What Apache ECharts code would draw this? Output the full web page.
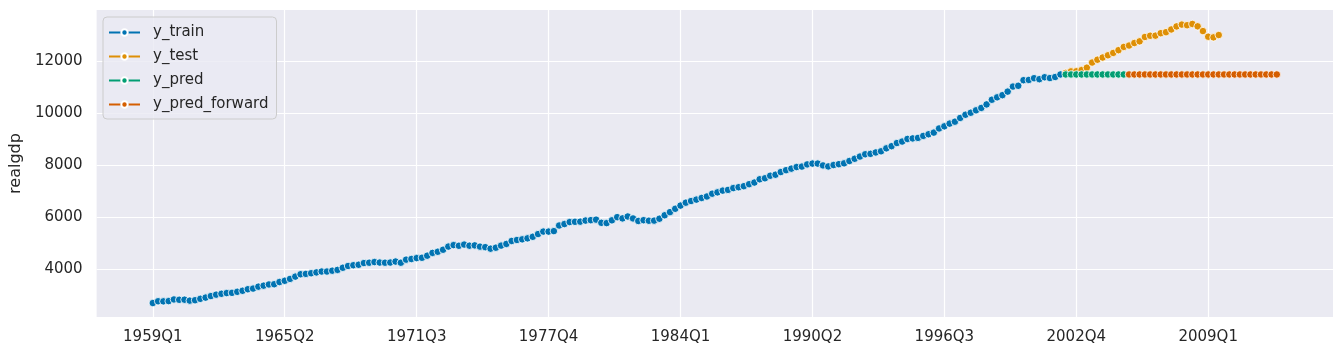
<!DOCTYPE html>
<html><head><meta charset="utf-8">
<script src="https://cdn.jsdelivr.net/npm/echarts@6/dist/echarts.min.js"></script>
<style>html,body{margin:0;padding:0;background:#fff}#c{width:1344px;height:356px}</style>
</head><body><div id="c"></div>
<script>
// Quarter labels 1959Q1 .. 2012Q2
const quarters = [];
for (let y = 1959; y <= 2012; y++) for (let q = 1; q <= 4; q++) quarters.push(y + 'Q' + q);
quarters.length = 214;

const tickLabels = ['1959Q1','1965Q2','1971Q3','1977Q4','1984Q1','1990Q2','1996Q3','2002Q4','2009Q1'];
const yTicks = [4000, 6000, 8000, 10000, 12000];

const trainStart = '1959Q1';
const trainValues = [2710.349,2778.801,2775.488,2785.204,2847.699,2834.390,2839.022,2802.616,2819.264,2872.005,2918.419,2977.830,3031.241,3064.709,3093.047,3100.563,3141.087,3180.447,3240.332,3264.967,3338.246,3376.587,3422.469,3431.957,3516.251,3563.960,3636.285,3724.014,3815.423,3828.124,3853.301,3884.520,3918.740,3919.556,3950.826,3980.970,4063.013,4131.998,4160.267,4178.293,4244.100,4256.460,4283.378,4263.261,4256.573,4264.289,4302.259,4256.637,4374.016,4398.829,4433.943,4446.264,4525.769,4633.101,4677.503,4754.546,4876.166,4932.571,4906.252,4953.050,4909.617,4922.188,4873.520,4854.340,4795.295,4831.942,4913.328,4977.511,5090.663,5128.947,5154.072,5191.499,5251.762,5356.131,5451.921,5450.793,5469.405,5684.569,5740.300,5816.222,5825.949,5831.418,5873.335,5889.495,5908.467,5787.373,5776.617,5883.460,6005.717,5957.795,6030.184,5955.062,5857.333,5889.074,5866.370,5871.001,5944.020,6077.619,6197.468,6325.574,6448.264,6559.594,6623.343,6677.264,6740.275,6797.344,6903.523,6955.918,7022.757,7050.969,7118.950,7153.359,7193.019,7269.510,7332.558,7458.022,7496.600,7592.881,7632.082,7733.991,7806.603,7865.016,7927.393,7944.697,8027.693,8059.598,8059.476,7988.864,7950.164,8003.822,8037.538,8069.046,8157.616,8244.294,8329.361,8417.016,8432.485,8486.435,8531.108,8643.769,8727.919,8847.303,8904.289,9003.180,9025.267,9044.668,9120.684,9184.275,9247.188,9407.052,9488.879,9592.458,9666.235,9809.551,9932.672,10008.874,10103.425,10194.277,10328.787,10507.575,10601.179,10684.049,10819.914,11014.254,11043.044,11258.454,11267.867,11334.544,11297.171,11371.251,11340.075,11380.128,11477.868];

const testStart = '2002Q2';
const testValues = [11538.770,11596.430,11598.824,11645.819,11738.706,11935.461,12042.817,12127.623,12213.818,12303.533,12410.282,12534.113,12587.535,12683.153,12748.699,12915.938,12962.462,12965.916,13060.679,13099.901,13203.977,13321.109,13391.249,13366.865,13415.266,13324.600,13141.920,12925.410,12901.504,12990.341];

const predStart = '2002Q2';
const predValues = [11477.868,11477.868,11477.868,11477.868,11477.868,11477.868,11477.868,11477.868,11477.868,11477.868,11477.868,11477.868,11477.868,11477.868,11477.868,11477.868,11477.868,11477.868,11477.868,11477.868,11477.868,11477.868,11477.868,11477.868,11477.868,11477.868,11477.868,11477.868,11477.868,11477.868];

const forwardStart = '2005Q2';
const forwardValues = [11477.868,11477.868,11477.868,11477.868,11477.868,11477.868,11477.868,11477.868,11477.868,11477.868,11477.868,11477.868,11477.868,11477.868,11477.868,11477.868,11477.868,11477.868,11477.868,11477.868,11477.868,11477.868,11477.868,11477.868,11477.868,11477.868,11477.868,11477.868,11477.868];

const colors = ['#0173B2', '#DE8F05', '#029E73', '#D55E00'];
function pts(start, vals) {
  const s = quarters.indexOf(start);
  return vals.map((v, i) => [s + i, v]);
}
const tickIdx = tickLabels.map(l => quarters.indexOf(l));
const xPad = (quarters.length - 1) * 0.05;
const allVals = trainValues.concat(testValues, predValues, forwardValues);
const yMinD = Math.min(...allVals), yMaxD = Math.max(...allVals);
const yPad = (yMaxD - yMinD) * 0.05;

function mk(name, start, vals, color) {
  return {
    name, type: 'line', data: pts(start, vals), color,
    symbol: 'circle', symbolSize: 7.5, showSymbol: true,
    itemStyle: { color, borderColor: '#ffffff', borderWidth: 0.8 },
    lineStyle: { width: 1.5, color },
    animation: false, z: 2
  };
}

const chart = echarts.init(document.getElementById('c'), null, { renderer: 'canvas' });
const font = 'DejaVu Sans';
chart.setOption({
  backgroundColor: '#ffffff',
  animation: false,
  textStyle: { fontFamily: font },
  grid: { left: 96, right: 11, top: 10, bottom: 39, show: true, backgroundColor: '#EAEAF2', borderWidth: 0 },
  xAxis: {
    type: 'value', min: -xPad, max: quarters.length - 1 + xPad,
    axisLine: { show: false },
    axisTick: { show: false, customValues: tickIdx },
    axisLabel: { customValues: tickIdx, formatter: v => quarters[Math.round(v)], color: '#262626', fontSize: 15, fontFamily: font, margin: 13 },
    splitLine: { show: true, lineStyle: { color: '#ffffff', width: 1.2 } }
  },
  yAxis: {
    type: 'value', min: yMinD - yPad, max: yMaxD + yPad,
    name: 'realgdp', nameLocation: 'middle', nameGap: 62, nameRotate: 90,
    nameTextStyle: { color: '#262626', fontSize: 16, fontFamily: font },
    axisLine: { show: false },
    axisTick: { show: false, customValues: yTicks },
    axisLabel: { customValues: yTicks, formatter: v => String(v), color: '#262626', fontSize: 15, fontFamily: font, margin: 14 },
    splitLine: { show: true, lineStyle: { color: '#ffffff', width: 1.2 } }
  },
  legend: {
    orient: 'vertical', left: 103, top: 17,
    padding: [8, 8, 7, 5], itemGap: 9, itemWidth: 31, itemHeight: 8,
    backgroundColor: 'rgba(234,234,242,0.8)', borderColor: '#cccccc', borderWidth: 1, borderRadius: 4,
    textStyle: { color: '#262626', fontSize: 15, fontFamily: font, padding: [0, 0, 0, 8] },
    data: ['y_train', 'y_test', 'y_pred', 'y_pred_forward']
  },
  series: [
    mk('y_train', trainStart, trainValues, colors[0]),
    mk('y_test', testStart, testValues, colors[1]),
    mk('y_pred', predStart, predValues, colors[2]),
    mk('y_pred_forward', forwardStart, forwardValues, colors[3])
  ]
});
</script></body></html>
